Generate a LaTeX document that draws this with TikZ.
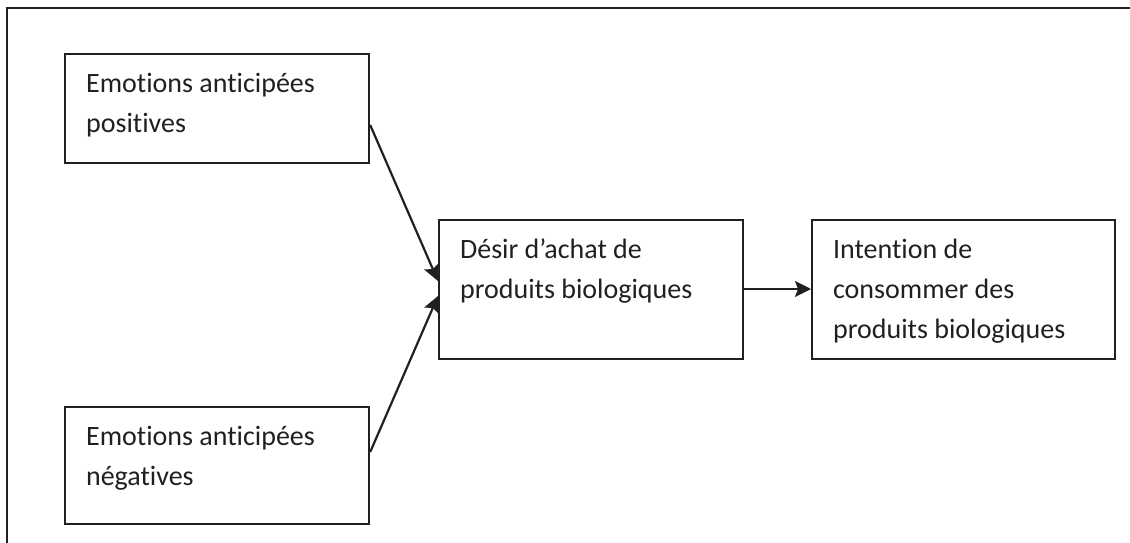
\documentclass[tikz,border=0pt]{standalone}
\usepackage{fontspec}
\setmainfont{Carlito}[RawFeature=-liga]
\usetikzlibrary{arrows.meta}
\definecolor{ink}{HTML}{231F20}
\newcommand{\boxtext}[3]{\parbox[t][#1][t]{#2}{\raggedright\fontsize{28pt}{40pt}\selectfont\rule{0pt}{38pt}#3}}
\tikzset{
  framebox/.style={draw=ink, line width=2.2pt, inner xsep=21pt, inner ysep=0pt, anchor=north west, text=ink},
  conn/.style={draw=ink, line width=2.2pt, -{Stealth[length=16pt,width=16pt,inset=3pt]}},
  outline/.style={draw=ink, line width=2.2pt}
}
\begin{document}
\begin{tikzpicture}[x=1pt,y=-1pt]
\useasboundingbox (0,0) rectangle (1130,542);
\coordinate (ftr) at (1131,8);
\coordinate (ftl) at (7,8);
\coordinate (fbl) at (7,543);
\draw[outline] (ftr) -- (ftl) -- (fbl);
\node[framebox] (pos) at (64,53) {\boxtext{109pt}{262pt}{Emotions anticipées\\positives}};
\node[framebox] (neg) at (64,406) {\boxtext{117pt}{262pt}{Emotions anticipées\\négatives}};
\node[framebox] (des) at (438,219) {\boxtext{139pt}{262pt}{Désir d’achat de\\produits biologiques}};
\node[framebox] (int) at (811,219) {\boxtext{139pt}{261pt}{Intention de\\consommer des\\produits biologiques}};
\draw[conn] (pos.north east |- 0,125) -- (des.north west |- 0,281);
\draw[conn] (neg.north east |- 0,452) -- (des.north west |- 0,296);
\draw[conn] (des.north east |- 0,289) -- (int.north west |- 0,289);
\end{tikzpicture}
\end{document}
